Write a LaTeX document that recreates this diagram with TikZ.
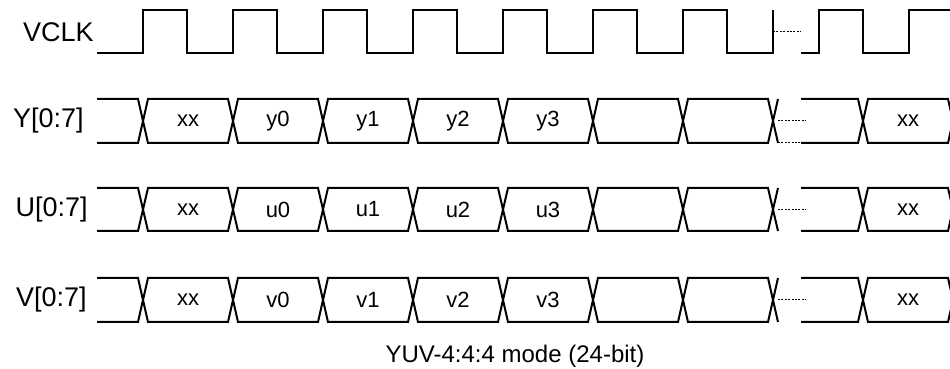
\documentclass[tikz,border=0pt]{standalone}
\usepackage{fontspec}
\setmainfont{Liberation Sans}

\tikzset{
  sig/.style={draw=black,line width=1pt,line join=miter},
  gap/.style={draw=black,line width=0.5pt,dash pattern=on 1pt off 0.7pt},
  signame/.style={anchor=east,inner sep=0pt,font=\fontsize{13.5}{16}\selectfont},
  val/.style={inner sep=0pt,font=\fontsize{11}{13}\selectfont},
}

\begin{document}
\begin{tikzpicture}[x=0.5pt,y=-0.5pt]
\useasboundingbox (0,0) rectangle (950,369);
\clip (0,0) rectangle (950,369);

\node[signame] (vclk) at (94,32) {VCLK};
\node[signame] (y) at (84,121) {Y[0:7]};
\node[signame] (u) at (88,210) {U[0:7]};
\node[signame] (v) at (87,300) {V[0:7]};
\node[val,font=\fontsize{12}{14}\selectfont] (mode) at (515,356) {YUV-4:4:4 mode (24-bit)};

\path [sig] (97,53) -| (143,10) -| (187,53) -| (233,10) -| (277,53) -| (323,10) -| (367,53) -| (413,10) -| (457,53) -| (503,10) -| (547,53) -| (593,10) -| (637,53) -| (683,10) -| (727,53) -| (773,10);
\path [sig] (801,53) -| (819,10) -| (863,53) -| (909,10) -- (955,10);
\path [gap] (773,32) -- (801,32);

\foreach \r/\T/\B in {y/99/143,u/188/231,v/278/322}{
  \path [sig] (97,\T) \foreach \c in {143,323,503,683} { -- (\c-5,\T) -- (\c+5,\B) -- (\c+85,\B) -- (\c+95,\T) };
  \path [sig] (97,\B) \foreach \c in {143,323,503,683} { -- (\c-5,\B) -- (\c+5,\T) -- (\c+85,\T) -- (\c+95,\B) };
  \path [sig] (801,\T) -- (858,\T) -- (868,\B) -- (948,\B) -- (958,\T);
  \path [sig] (801,\B) -- (858,\B) -- (868,\T) -- (948,\T) -- (958,\B);
  \path [gap] (778,{(\T+\B)/2}) -- (806,{(\T+\B)/2});
  \node[val] (\r-0) at (188,{(\T+\B)/2}) {xx};
  \node[val] (\r-1) at (278,{(\T+\B)/2}) {\r0};
  \node[val] (\r-2) at (368,{(\T+\B)/2}) {\r1};
  \node[val] (\r-3) at (458,{(\T+\B)/2}) {\r2};
  \node[val] (\r-4) at (548,{(\T+\B)/2}) {\r3};
  \node[val] (\r-5) at (908,{(\T+\B)/2}) {xx};
}
\path [gap] (778,143) -- (801,143);
\end{tikzpicture}
\end{document}
